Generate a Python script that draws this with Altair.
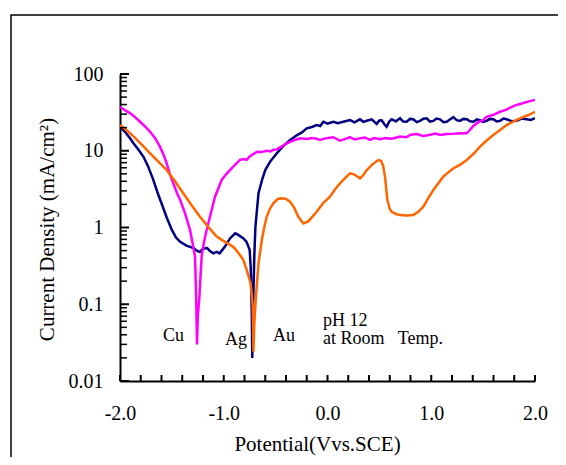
import altair as alt
import pandas as pd

# ---------------- data ----------------
ag_x = [-2.00, -1.95, -1.90, -1.87, -1.82, -1.775, -1.73, -1.68, -1.64, -1.60, -1.55, -1.50,
        -1.46, -1.42, -1.36, -1.29, -1.26, -1.23, -1.20, -1.16, -1.13, -1.10, -1.07, -1.04,
        -0.99, -0.94, -0.89, -0.86, -0.81, -0.78, -0.75, -0.74, -0.73, -0.725, -0.715, -0.705,
        -0.695, -0.68, -0.665, -0.63, -0.60, -0.55, -0.49, -0.43, -0.36, -0.30, -0.25, -0.20,
        -0.15, -0.105, -0.07, -0.04, 0.00, 0.056, 0.10, 0.152, 0.217, 0.26, 0.313, 0.345,
        0.378, 0.426, 0.474, 0.50, 0.522, 0.55, 0.57, 0.595, 0.619, 0.66, 0.699, 0.73,
        0.763, 0.795, 0.827, 0.86, 0.892, 0.924, 0.956, 0.988, 1.02, 1.05, 1.085, 1.117,
        1.149, 1.18, 1.213, 1.245, 1.277, 1.31, 1.342, 1.374, 1.406, 1.44, 1.47, 1.50,
        1.534, 1.566, 1.599, 1.63, 1.663, 1.695, 1.727, 1.775, 1.823, 1.87, 1.92, 1.96, 2.00]
ag_y = [20.6, 17.5, 14.3, 12.5, 10.2, 8.4, 6.3, 4.2, 2.9, 2.07, 1.35, 0.93,
        0.74, 0.65, 0.58, 0.54, 0.50, 0.48, 0.53, 0.54, 0.49, 0.46, 0.48, 0.46,
        0.56, 0.72, 0.84, 0.80, 0.72, 0.65, 0.51, 0.30, 0.08, 0.02, 0.12, 0.45,
        1.0, 1.69, 2.79, 4.2, 5.6, 7.3, 9.2, 11.4, 13.8, 15.8, 17.2, 19.6,
        20.4, 21.6, 21.0, 23.9, 22.5, 23.9, 22.8, 23.9, 25.1, 23.5, 25.7, 23.8,
        24.6, 25.7, 22.4, 24.8, 25.0, 22.0, 20.5, 24.0, 25.7, 24.2, 26.5, 24.0,
        23.9, 26.0, 25.7, 23.6, 24.5, 26.2, 26.5, 24.0, 24.5, 26.3, 25.7, 23.6,
        23.9, 25.5, 27.4, 25.0, 24.5, 26.0, 25.7, 24.2, 23.9, 25.6, 25.0, 23.8,
        24.5, 26.0, 25.7, 24.1, 24.5, 26.2, 25.7, 24.3, 24.6, 26.3, 25.7, 25.2, 26.5]

cu_x = [-2.00, -1.95, -1.90, -1.85, -1.807, -1.76, -1.71, -1.66, -1.615, -1.58, -1.55, -1.52,
        -1.486, -1.45, -1.42, -1.373, -1.35, -1.325, -1.30, -1.277, -1.266, -1.258, -1.25, -1.235,
        -1.213, -1.19, -1.165, -1.133, -1.084, -1.05, -1.02, -0.98, -0.94, -0.89, -0.843, -0.81,
        -0.779, -0.755, -0.73, -0.70, -0.682, -0.64, -0.586, -0.55, -0.52, -0.49, -0.44, -0.393,
        -0.33, -0.265, -0.20, -0.15, -0.104, -0.072, -0.02, 0.056, 0.12, 0.18, 0.217, 0.26,
        0.313, 0.36, 0.41, 0.45, 0.506, 0.56, 0.62, 0.699, 0.76, 0.80, 0.86, 0.92,
        0.98, 1.04, 1.085, 1.15, 1.22, 1.28, 1.342, 1.37, 1.406, 1.45, 1.50, 1.534,
        1.60, 1.663, 1.72, 1.77, 1.823, 1.88, 1.94, 2.00]
cu_y = [37.5, 33.5, 30.7, 27.0, 23.9, 20.8, 17.7, 14.5, 11.3, 8.9, 6.85, 5.0,
        3.76, 2.8, 2.28, 1.53, 1.2, 0.93, 0.62, 0.42, 0.125, 0.03, 0.07, 0.125,
        0.42, 0.65, 0.93, 1.38, 2.52, 3.3, 4.16, 4.9, 5.6, 6.6, 7.6, 7.8,
        7.6, 8.3, 8.8, 9.3, 9.7, 9.6, 10.0, 9.8, 10.3, 10.4, 11.4, 12.5,
        13.6, 14.5, 14.2, 14.6, 14.3, 13.8, 14.5, 15.0, 13.5, 14.4, 15.1, 14.0,
        14.5, 14.9, 13.9, 14.6, 14.1, 14.6, 14.3, 15.3, 15.0, 16.2, 16.5, 15.6,
        16.0, 16.8, 16.1, 16.5, 16.6, 16.9, 16.9, 18.5, 21.0, 23.4, 25.0, 27.7,
        29.4, 32.2, 34.0, 37.0, 39.5, 41.5, 44.0, 45.8]

au_x = [-2.00, -1.93, -1.865, -1.79, -1.71, -1.63, -1.55, -1.47, -1.39, -1.31, -1.229, -1.15,
        -1.068, -1.004, -0.96, -0.908, -0.86, -0.812, -0.779, -0.741, -0.72, -0.714, -0.705, -0.69,
        -0.665, -0.633, -0.61, -0.586, -0.555, -0.522, -0.48, -0.441, -0.40, -0.361, -0.32, -0.281,
        -0.233, -0.185, -0.104, -0.04, 0.024, 0.07, 0.12, 0.17, 0.217, 0.26, 0.313, 0.345,
        0.378, 0.43, 0.49, 0.515, 0.535, 0.554, 0.577, 0.60, 0.619, 0.66, 0.699, 0.76,
        0.827, 0.875, 0.924, 0.97, 1.02, 1.07, 1.116, 1.213, 1.28, 1.342, 1.41, 1.47,
        1.535, 1.598, 1.66, 1.727, 1.79, 1.855, 1.93, 2.00]
au_y = [21.6, 18.2, 15.2, 12.0, 9.25, 7.2, 5.6, 4.0, 2.79, 1.95, 1.38, 1.02,
        0.76, 0.67, 0.62, 0.56, 0.47, 0.38, 0.28, 0.188, 0.093, 0.024, 0.057, 0.125,
        0.34, 0.69, 1.0, 1.38, 1.75, 2.07, 2.35, 2.4, 2.35, 2.17, 1.8, 1.38,
        1.13, 1.2, 1.6, 2.1, 2.52, 3.1, 3.76, 4.4, 5.08, 4.9, 4.37, 4.8,
        5.6, 6.6, 7.56, 7.4, 6.5, 4.6, 2.28, 1.75, 1.6, 1.5, 1.45, 1.43,
        1.45, 1.6, 1.87, 2.4, 3.08, 3.8, 4.6, 5.9, 6.6, 7.56, 9.2, 11.3,
        13.6, 16.0, 18.5, 21.6, 24.0, 26.4, 29.0, 32.2]

x_ticks = [-2.0, -1.8, -1.6, -1.4, -1.2, -1.0, -0.8, -0.6, -0.4, -0.2, 0.0,
           0.2, 0.4, 0.6, 0.8, 1.0, 1.2, 1.4, 1.6, 1.8, 2.0]
y_major = [0.01, 0.1, 1, 10, 100]
y_minor = [0.02, 0.03, 0.04, 0.05, 0.06, 0.07, 0.08, 0.09,
           0.2, 0.3, 0.4, 0.5, 0.6, 0.7, 0.8, 0.9,
           2, 3, 4, 5, 6, 7, 8, 9,
           20, 30, 40, 50, 60, 70, 80, 90]

note_text = ["Cu", "Ag", "Au", "pH 12", "at Room\u00a0\u00a0 Temp."]
note_x = [-1.586, -0.988, -0.525, -0.043, -0.043]
note_y = [0.0332, 0.0294, 0.0332, 0.052, 0.0303]

# ---------------- chart ----------------
FONT = "Liberation Serif"
W, H = 415, 307

xscale = alt.Scale(domain=[-2, 2], nice=False, zero=False)
yscale = alt.Scale(type="log", domain=[0.01, 100], nice=False)

xaxis = alt.Axis(
    values=x_ticks,
    labelExpr="abs(datum.value % 1) < 0.001 ? (datum.value < 0 ? '-' : '') + format(abs(datum.value), '.1f') : ''",
    ticks=False, grid=False, domainColor="black", domainWidth=2,
    labelFont=FONT, labelFontSize=20, labelColor="black", labelPadding=22,
    labelFlush=False, labelOverlap=False,
    title="Potential(Vvs.SCE)", titleFont=FONT, titleFontSize=21,
    titleFontWeight="normal", titleColor="black",
    titleX=197, titleY=69, titleBaseline="alphabetic", titleAlign="center",
)
yaxis = alt.Axis(
    values=y_major, labelExpr="format(datum.value, '~g')",
    ticks=False, grid=False, domainColor="black", domainWidth=2,
    labelFont=FONT, labelFontSize=20, labelColor="black", labelPadding=17,
    labelFlush=False, labelOverlap=False,
    title="Current Density (mA/cm\u00b2)", titleFont=FONT, titleFontSize=21,
    titleFontWeight="normal", titleColor="black",
    titleX=-73, titleY=155, titleAngle=270, titleBaseline="middle", titleAlign="center",
)

X = lambda f: alt.X(f, scale=xscale, axis=xaxis)
Y = lambda f: alt.Y(f, scale=yscale, axis=yaxis)


def series(xs, ys, color):
    df = pd.DataFrame({"x": xs, "y": ys})
    return alt.Chart(df).mark_line(color=color, strokeWidth=2.5, clip=True).encode(
        x=X("x:Q"), y=Y("y:Q"), order=alt.Order("x:Q"))


one = pd.DataFrame({"a": [0]})
frame_left = alt.Chart(one).mark_rule(color="black", strokeWidth=1.5).encode(
    x=alt.value(-109), y=alt.value(-59), y2=alt.value(420))
frame_top = alt.Chart(one).mark_rule(color="black", strokeWidth=1.5).encode(
    x=alt.value(-109.5), x2=alt.value(480), y=alt.value(-59))

xt = alt.Chart(pd.DataFrame({"x": x_ticks})).mark_rule(color="black", strokeWidth=2).encode(
    x=X("x:Q"), y=alt.value(H), y2=alt.value(H - 6))
ymaj = alt.Chart(pd.DataFrame({"y": y_major})).mark_rule(color="black", strokeWidth=2).encode(
    y=Y("y:Q"), x=alt.value(0), x2=alt.value(9))
ymin = alt.Chart(pd.DataFrame({"y": y_minor})).mark_rule(color="black", strokeWidth=1.5).encode(
    y=Y("y:Q"), x=alt.value(0), x2=alt.value(7))

notes = alt.Chart(pd.DataFrame({"x": note_x, "y": note_y, "t": note_text})).mark_text(
    align="left", baseline="alphabetic", font=FONT, fontSize=18, color="black").encode(
    x=X("x:Q"), y=Y("y:Q"), text="t:N")

chart = alt.layer(
    series(ag_x, ag_y, "#000080"),
    series(cu_x, cu_y, "#FF00FF"),
    series(au_x, au_y, "#FF6600"),
    xt, ymaj, ymin, notes,
    frame_left, frame_top,
).properties(
    width=W, height=H,
    padding={"left": 112, "top": 66, "right": 23, "bottom": 76},
    autosize=alt.AutoSizeParams(type="none"),
    background="white",
).configure_view(strokeWidth=0)

chart.save("out.html", embed_options={"renderer": "svg", "actions": False})
